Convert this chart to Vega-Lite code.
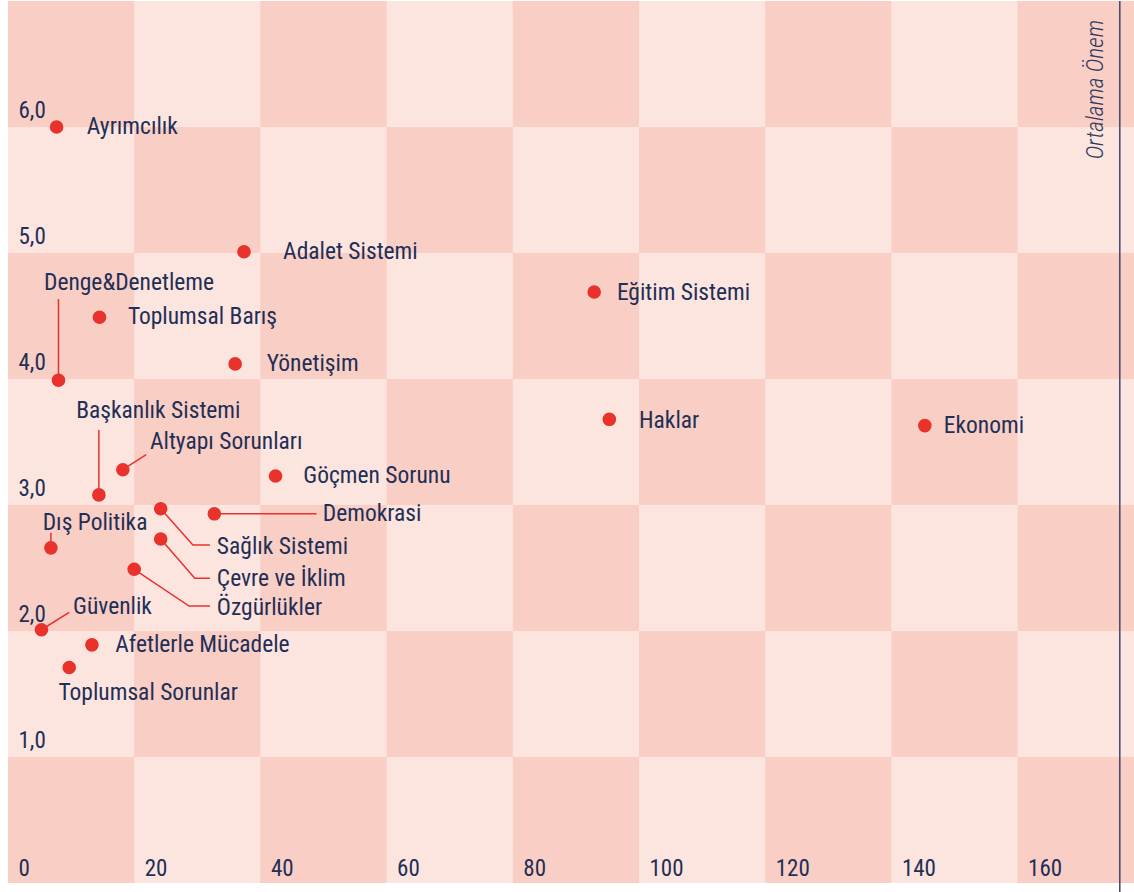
{
  "$schema": "https://vega.github.io/schema/vega-lite/v6.json",
  "width": 1126,
  "height": 882,
  "padding": {"left": 8, "top": 1, "right": 0, "bottom": 9},
  "autosize": {"type": "none"},
  "background": "white",
  "config": {
    "view": {"stroke": null, "fill": "#FCE4DF"},
    "axis": {"labelOverlap": false, "labelFlush": false, "labelBound": false, "domain": false, "ticks": false, "tickSize": 0, "grid": false, "title": null,
      "labelFont": "Roboto Condensed, Roboto", "labelFontSize": 23, "labelColor": "#1F2F56", "labelBaseline": "alphabetic", "labelAlign": "left"},
    "axisX": {"labelPadding": -8, "labelOffset": 10},
    "axisY": {"labelPadding": -10, "labelOffset": -10}
  },
  "datasets": {
    "cells": [
      {"x0": 0, "x1": 20, "y0": 0, "y1": 1}, {"x0": 40, "x1": 60, "y0": 0, "y1": 1}, {"x0": 80, "x1": 100, "y0": 0, "y1": 1}, {"x0": 120, "x1": 140, "y0": 0, "y1": 1}, {"x0": 160, "x1": 180, "y0": 0, "y1": 1},
      {"x0": 20, "x1": 40, "y0": 1, "y1": 2}, {"x0": 60, "x1": 80, "y0": 1, "y1": 2}, {"x0": 100, "x1": 120, "y0": 1, "y1": 2}, {"x0": 140, "x1": 160, "y0": 1, "y1": 2},
      {"x0": 0, "x1": 20, "y0": 2, "y1": 3}, {"x0": 40, "x1": 60, "y0": 2, "y1": 3}, {"x0": 80, "x1": 100, "y0": 2, "y1": 3}, {"x0": 120, "x1": 140, "y0": 2, "y1": 3}, {"x0": 160, "x1": 180, "y0": 2, "y1": 3},
      {"x0": 20, "x1": 40, "y0": 3, "y1": 4}, {"x0": 60, "x1": 80, "y0": 3, "y1": 4}, {"x0": 100, "x1": 120, "y0": 3, "y1": 4}, {"x0": 140, "x1": 160, "y0": 3, "y1": 4},
      {"x0": 0, "x1": 20, "y0": 4, "y1": 5}, {"x0": 40, "x1": 60, "y0": 4, "y1": 5}, {"x0": 80, "x1": 100, "y0": 4, "y1": 5}, {"x0": 120, "x1": 140, "y0": 4, "y1": 5}, {"x0": 160, "x1": 180, "y0": 4, "y1": 5},
      {"x0": 20, "x1": 40, "y0": 5, "y1": 6}, {"x0": 60, "x1": 80, "y0": 5, "y1": 6}, {"x0": 100, "x1": 120, "y0": 5, "y1": 6}, {"x0": 140, "x1": 160, "y0": 5, "y1": 6},
      {"x0": 0, "x1": 20, "y0": 6, "y1": 7}, {"x0": 40, "x1": 60, "y0": 6, "y1": 7}, {"x0": 80, "x1": 100, "y0": 6, "y1": 7}, {"x0": 120, "x1": 140, "y0": 6, "y1": 7}, {"x0": 160, "x1": 180, "y0": 6, "y1": 7}
    ],
    "issues": [
      {"konu": "Ayrımcılık", "sayi": 7.7, "onem": 6.0, "labelX": 12.5, "labelY": 6.0},
      {"konu": "Adalet Sistemi", "sayi": 37.4, "onem": 5.01, "labelX": 43.6, "labelY": 5.01},
      {"konu": "Eğitim Sistemi", "sayi": 92.9, "onem": 4.69, "labelX": 96.5, "labelY": 4.68},
      {"konu": "Toplumsal Barış", "sayi": 14.5, "onem": 4.49, "labelX": 19.0, "labelY": 4.49},
      {"konu": "Yönetişim", "sayi": 36.0, "onem": 4.12, "labelX": 41.0, "labelY": 4.12},
      {"konu": "Denge&Denetleme", "sayi": 8.0, "onem": 3.99, "labelX": 5.7, "labelY": 4.76},
      {"konu": "Haklar", "sayi": 95.3, "onem": 3.68, "labelX": 100.0, "labelY": 3.67},
      {"konu": "Ekonomi", "sayi": 145.3, "onem": 3.63, "labelX": 148.3, "labelY": 3.63},
      {"konu": "Altyapı Sorunları", "sayi": 18.2, "onem": 3.28, "labelX": 22.5, "labelY": 3.5},
      {"konu": "Göçmen Sorunu", "sayi": 42.4, "onem": 3.23, "labelX": 46.8, "labelY": 3.23},
      {"konu": "Başkanlık Sistemi", "sayi": 14.4, "onem": 3.08, "labelX": 10.8, "labelY": 3.75},
      {"konu": "Sağlık Sistemi", "sayi": 24.2, "onem": 2.97, "labelX": 33.1, "labelY": 2.67},
      {"konu": "Demokrasi", "sayi": 32.7, "onem": 2.93, "labelX": 49.9, "labelY": 2.93},
      {"konu": "Çevre ve İklim", "sayi": 24.2, "onem": 2.73, "labelX": 33.1, "labelY": 2.41},
      {"konu": "Dış Politika", "sayi": 6.8, "onem": 2.66, "labelX": 5.5, "labelY": 2.86},
      {"konu": "Özgürlükler", "sayi": 20.0, "onem": 2.49, "labelX": 33.1, "labelY": 2.185},
      {"konu": "Güvenlik", "sayi": 5.3, "onem": 2.01, "labelX": 10.3, "labelY": 2.19},
      {"konu": "Afetlerle Mücadele", "sayi": 13.3, "onem": 1.89, "labelX": 17.0, "labelY": 1.89},
      {"konu": "Toplumsal Sorunlar", "sayi": 9.7, "onem": 1.71, "labelX": 8.0, "labelY": 1.505}
    ],
    "leaders": [
      {"id": "Denge&Denetleme", "seq": 1, "x": 8.0, "y": 4.635}, {"id": "Denge&Denetleme", "seq": 2, "x": 8.0, "y": 3.99},
      {"id": "Başkanlık Sistemi", "seq": 1, "x": 14.4, "y": 3.595}, {"id": "Başkanlık Sistemi", "seq": 2, "x": 14.4, "y": 3.08},
      {"id": "Altyapı Sorunları", "seq": 1, "x": 18.2, "y": 3.28}, {"id": "Altyapı Sorunları", "seq": 2, "x": 21.9, "y": 3.4},
      {"id": "Dış Politika", "seq": 1, "x": 6.8, "y": 2.78}, {"id": "Dış Politika", "seq": 2, "x": 6.8, "y": 2.66},
      {"id": "Demokrasi", "seq": 1, "x": 32.7, "y": 2.93}, {"id": "Demokrasi", "seq": 2, "x": 48.9, "y": 2.93},
      {"id": "Sağlık Sistemi", "seq": 1, "x": 24.2, "y": 2.97}, {"id": "Sağlık Sistemi", "seq": 2, "x": 29.3, "y": 2.683}, {"id": "Sağlık Sistemi", "seq": 3, "x": 32.0, "y": 2.683},
      {"id": "Çevre ve İklim", "seq": 1, "x": 24.2, "y": 2.73}, {"id": "Çevre ve İklim", "seq": 2, "x": 29.6, "y": 2.418}, {"id": "Çevre ve İklim", "seq": 3, "x": 32.0, "y": 2.418},
      {"id": "Özgürlükler", "seq": 1, "x": 20.0, "y": 2.49}, {"id": "Özgürlükler", "seq": 2, "x": 28.7, "y": 2.198}, {"id": "Özgürlükler", "seq": 3, "x": 32.0, "y": 2.198},
      {"id": "Güvenlik", "seq": 1, "x": 5.3, "y": 2.01}, {"id": "Güvenlik", "seq": 2, "x": 9.7, "y": 2.148}
    ],
    "axisline": [
      {"ad": "Ortalama Önem", "x": 176.2, "xText": 172.4, "yTop": 7.0, "yBottom": -0.072, "yText": 6.85}
    ]
  },
  "layer": [
    {
      "data": {"name": "cells"},
      "mark": {"type": "rect", "color": "#F9CEC5", "clip": true},
      "encoding": {
        "x": {"field": "x0", "type": "quantitative", "scale": {"domain": [0, 178.45], "nice": false, "zero": false},
          "axis": {"values": [0, 20, 40, 60, 80, 100, 120, 140, 160], "zindex": 2}},
        "x2": {"field": "x1"},
        "y": {"field": "y0", "type": "quantitative", "scale": {"domain": [0, 7], "nice": false, "zero": false},
          "axis": {"values": [1, 2, 3, 4, 5, 6], "zindex": 2, "labelExpr": "replace(format(datum.value, '.1f'), '.', ',')"}},
        "y2": {"field": "y1"}
      }
    },
    {
      "data": {"name": "leaders"},
      "mark": {"type": "line", "color": "#E8322B", "strokeWidth": 1.5},
      "encoding": {
        "x": {"field": "x", "type": "quantitative"},
        "y": {"field": "y", "type": "quantitative"},
        "detail": {"field": "id"},
        "order": {"field": "seq", "type": "quantitative"}
      }
    },
    {
      "data": {"name": "issues"},
      "mark": {"type": "circle", "color": "#E8322B", "opacity": 1, "size": 185},
      "encoding": {
        "x": {"field": "sayi", "type": "quantitative"},
        "y": {"field": "onem", "type": "quantitative"}
      }
    },
    {
      "data": {"name": "issues"},
      "mark": {"type": "text", "align": "left", "baseline": "middle", "font": "Roboto Condensed, Roboto", "fontSize": 23.5, "color": "#1F2F56"},
      "encoding": {
        "x": {"field": "labelX", "type": "quantitative"},
        "y": {"field": "labelY", "type": "quantitative"},
        "text": {"field": "konu"}
      }
    },
    {
      "data": {"name": "axisline"},
      "mark": {"type": "rule", "color": "#3D4566", "strokeWidth": 1.5},
      "encoding": {
        "x": {"field": "x", "type": "quantitative"},
        "y": {"field": "yTop", "type": "quantitative"},
        "y2": {"field": "yBottom"}
      }
    },
    {
      "data": {"name": "axisline"},
      "mark": {"type": "text", "angle": 270, "align": "right", "baseline": "middle", "font": "Roboto Condensed, Roboto", "fontSize": 23.5, "fontStyle": "italic", "fontWeight": 300, "color": "#2E3A5E"},
      "encoding": {
        "x": {"field": "xText", "type": "quantitative"},
        "y": {"field": "yText", "type": "quantitative"},
        "text": {"field": "ad"}
      }
    }
  ]
}
